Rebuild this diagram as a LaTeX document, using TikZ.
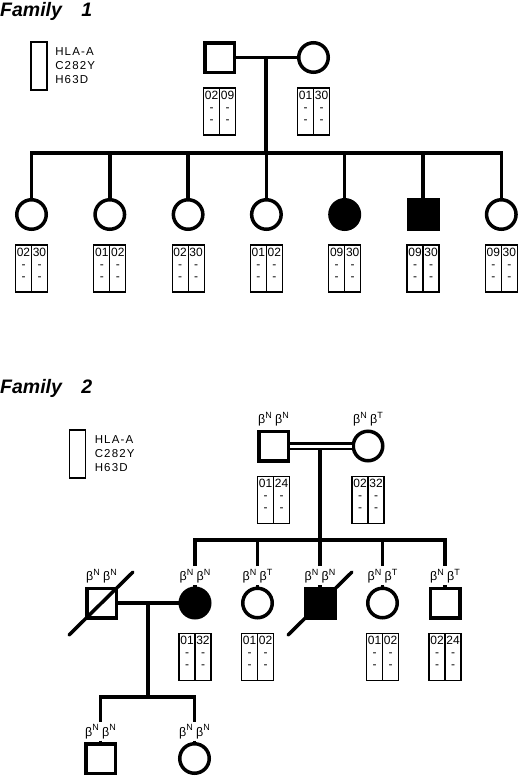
\documentclass[tikz,border=0pt]{standalone}
\usepackage{fontspec}
\setmainfont{Liberation Sans}
\newfontfamily\legendfont[LetterSpace=10]{Liberation Sans}
\usetikzlibrary{positioning}
\tikzstyle{male} = [rectangle, draw, line width=3.5pt, minimum size=29.5pt, inner sep=0pt]
\tikzstyle{female} = [circle, draw, line width=3.5pt, minimum size=29.5pt, inner sep=0pt]
\tikzstyle{affected} = [fill=black]
\tikzstyle{ped} = [line width=3.5pt]
\tikzstyle{slash} = [line width=3.5pt, line cap=round]
\tikzstyle{gbox} = [rectangle, draw, line width=1.1pt, minimum width=32pt, minimum height=47pt, inner sep=0pt, outer sep=0pt]
\tikzstyle{gline} = [line width=1.1pt]
\tikzstyle{gtext} = [anchor=north, align=center, inner xsep=0pt, inner ysep=2.5pt, font=\fontsize{12}{12}\selectfont]
\tikzstyle{legbox} = [rectangle, draw, line width=1.2pt, minimum width=16pt, minimum height=48pt, inner sep=0pt]
\tikzstyle{legtext} = [align=left, inner sep=0pt, font=\legendfont\fontsize{11.5}{14}\selectfont]
\tikzstyle{allele} = [inner xsep=0pt, inner ysep=2pt, outer sep=0pt, text height=12.5pt, text depth=2.5pt, font=\fontsize{12.5}{12}\selectfont]
\tikzstyle{title} = [anchor=base west, inner sep=0pt, font=\bfseries\itshape\fontsize{19.5}{20}\selectfont]
\newcommand{\allele}[1]{β\raisebox{5.5pt}{\fontsize{9}{9}\selectfont #1}}
% genotype box: name, placement, left and right haplotype
\newcommand{\genobox}[4]{%
  \node (#1) [gbox, #2] {};
  \draw [gline] (#1.north) -- (#1.south);
  \node [gtext] at ([xshift=-8pt]#1.north) {#3\\-\\-};
  \node [gtext] at ([xshift=8pt]#1.north) {#4\\-\\-};
}

\begin{document}
\begin{tikzpicture}[x=1pt, y=-1pt]
    \useasboundingbox (0,0) rectangle (520,777);

    % Family 1
    \node (t1) [title] at (0,16) {Family\quad 1};
    \node (leg1) [legbox] at (39,66) {};
    \node (leg1t) [legtext, right=7.5pt of leg1] {HLA-A\\C282Y\\H63D};

    \node (f1fa) [male] at (219.5,57.5) {};
    \node (f1mo) [female, right=61pt of f1fa] {};
    \coordinate (f1bar) at (266,153);

    \node (f1c1) [female] at (31.5,214.5) {};
    \node (f1c2) [female, right=45.3pt of f1c1] {};
    \node (f1c3) [female, right=45.3pt of f1c2] {};
    \node (f1c4) [female, right=45.3pt of f1c3] {};
    \node (f1c5) [female, affected, right=45.3pt of f1c4] {};
    \node (f1c6) [male, affected, right=45.3pt of f1c5] {};
    \node (f1c7) [female, right=45.3pt of f1c6] {};

    \draw [ped] (f1fa) -- (f1mo);
    \draw [ped] (f1bar |- f1fa) -- (f1bar);
    \draw [ped] (f1c1.north) |- (f1bar) -| (f1c7.north);
    \draw [ped] (f1c2.north) -- (f1c2.north |- f1bar);
    \draw [ped] (f1c3.north) -- (f1c3.north |- f1bar);
    \draw [ped] (f1c4.north) -- (f1c4.north |- f1bar);
    \draw [ped] (f1c5.north) -- (f1c5.north |- f1bar);
    \draw [ped] (f1c6.north) -- (f1c6.north |- f1bar);

    \genobox{f1fab}{below=14pt of f1fa}{02}{09}
    \genobox{f1mob}{below=14pt of f1mo}{01}{30}
    \genobox{f1c1b}{below=14pt of f1c1}{02}{30}
    \genobox{f1c2b}{below=14pt of f1c2}{01}{02}
    \genobox{f1c3b}{below=14pt of f1c3}{02}{30}
    \genobox{f1c4b}{below=14pt of f1c4}{01}{02}
    \genobox{f1c5b}{below=14pt of f1c5}{09}{30}
    \genobox{f1c6b}{below=14pt of f1c6}{09}{30}
    \genobox{f1c7b}{below=14pt of f1c7}{09}{30}

    % Family 2
    \node (t2) [title] at (0,393) {Family\quad 2};
    \node (leg2) [legbox] at (77.5,454) {};
    \node (leg2t) [legtext, right=8.5pt of leg2] {HLA-A\\C282Y\\H63D};

    \node (f2fa) [male] at (273.5,446) {};
    \node (f2mo) [female, right=61.5pt of f2fa] {};
    \node (f2fal) [allele, above=1.5pt of f2fa] {\allele{N} \allele{N}};
    \node (f2mol) [allele, above=1.5pt of f2mo] {\allele{N} \allele{T}};
    \coordinate (f2drop) at (320,449);
    \coordinate (f2bar) at (320,540);

    \node (f2c1) [female, affected] at (195,603) {};
    \node (f2c2) [female, right=29.5pt of f2c1] {};
    \node (f2c3) [male, affected, right=29.5pt of f2c2] {};
    \node (f2c4) [female, right=29.5pt of f2c3] {};
    \node (f2c5) [male, right=29.5pt of f2c4] {};
    \node (f2l1) [allele, above=1.5pt of f2c1] {\allele{N} \allele{N}};
    \node (f2l2) [allele, above=1.5pt of f2c2] {\allele{N} \allele{T}};
    \node (f2l3) [allele, above=1.5pt of f2c3] {\allele{N} \allele{N}};
    \node (f2l4) [allele, above=1.5pt of f2c4] {\allele{N} \allele{T}};
    \node (f2l5) [allele, above=1.5pt of f2c5] {\allele{N} \allele{T}};

    \node (f2sp) [male, left=60.5pt of f2c1] {};
    \node (f2spl) [allele, above=1.5pt of f2sp] {\allele{N} \allele{N}};
    \coordinate (f2gbar) at (148,697);

    \node (f2g1) [male] at (100.5,758.5) {};
    \node (f2g2) [female, right=61pt of f2g1] {};
    \node (f2gl1) [allele, above=1.5pt of f2g1] {\allele{N} \allele{N}};
    \node (f2gl2) [allele, above=1.5pt of f2g2] {\allele{N} \allele{N}};

    \draw [ped, double, double distance=3pt, line width=2.5pt] (f2fa) -- (f2mo);
    \draw [ped] (f2drop) -- (f2bar);
    \draw [ped] (f2l1.north) |- (f2bar) -| (f2l5.north);
    \draw [ped] (f2l2.north) -- (f2l2.north |- f2bar);
    \draw [ped] (f2l3.north) -- (f2l3.north |- f2bar);
    \draw [ped] (f2l4.north) -- (f2l4.north |- f2bar);
    \draw [ped] (f2l1) -- (f2c1);
    \draw [ped] (f2l2) -- (f2c2);
    \draw [ped] (f2l3) -- (f2c3);
    \draw [ped] (f2l4) -- (f2c4);
    \draw [ped] (f2l5) -- (f2c5);

    \draw [ped] (f2sp) -- (f2c1);
    \draw [ped] (f2gbar |- f2sp) -- (f2gbar);
    \draw [ped] (f2gl1.north) |- (f2gbar) -| (f2gl2.north);
    \draw [ped] (f2gl1) -- (f2g1);
    \draw [ped] (f2gl2) -- (f2g2);

    % deceased
    \draw [slash] ([shift={(-32.5,32)}]f2sp.center) -- ([shift={(31.5,-31)}]f2sp.center);
    \draw [slash] ([shift={(-32,32)}]f2c3.center) -- ([shift={(32,-31)}]f2c3.center);

    \genobox{f2fab}{below=14pt of f2fa}{01}{24}
    \genobox{f2mob}{below=14pt of f2mo}{02}{32}
    \genobox{f2c1b}{below=14pt of f2c1}{01}{32}
    \genobox{f2c2b}{below=14pt of f2c2}{01}{02}
    \genobox{f2c4b}{below=14pt of f2c4}{01}{02}
    \genobox{f2c5b}{below=14pt of f2c5}{02}{24}
\end{tikzpicture}
\end{document}
